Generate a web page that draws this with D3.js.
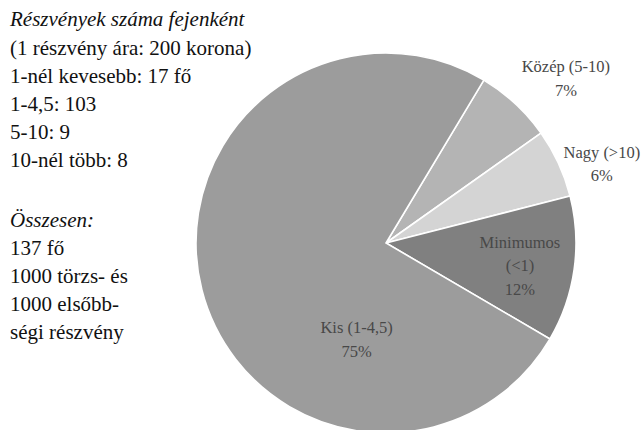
<!DOCTYPE html>
<html>
<head>
<meta charset="utf-8">
<script src="https://cdn.jsdelivr.net/npm/d3@7"></script>
<style>
  body { margin: 0; background: #fff; }
  svg { display: block; }
</style>
</head>
<body>
<div id="chart"></div>
<script>
// slices in drawing order, clockwise from the Közép slice
const categories = ["Közép (5-10)", "Nagy (>10)", "Minimumos (<1)", "Kis (1-4,5)"]
const labelLines = [["Közép (5-10)"], ["Nagy (>10)"], ["Minimumos", "(<1)"], ["Kis (1-4,5)"]]
const counts = [9, 8, 17, 103]
const sliceColors = ["#b4b4b4", "#d4d4d4", "#808080", "#9c9c9c"]

const noteTitle = "Részvények száma fejenként"
const noteLines = ["(1 részvény ára: 200 korona)", "1-nél kevesebb: 17 fő", "1-4,5: 103", "5-10: 9", "10-nél több: 8"]
const totalTitle = "Összesen:"
const totalLines = ["137 fő", "1000 törzs- és", "1000 elsőbb-", "ségi részvény"]

const width = 644
const height = 430
const cx = 386, cy = 243, radius = 190
const startDeg = 31
const serif = "'Liberation Serif', 'Times New Roman', Times, serif"

// label anchor per slice: [angle in degrees, distance from centre]
const labelAnchor = [[46.5, 248], [68.5, 232], [92, 134], [198, 95]]

const svg = d3.select("#chart").append("svg")
  .attr("width", width)
  .attr("height", height)
  .attr("font-family", serif)
  .style("font-family", serif)

const toRad = d => d * Math.PI / 180

const pie = d3.pie()
  .sort(null)
  .value(d => d)
  .startAngle(toRad(startDeg))
  .endAngle(toRad(startDeg + 360))

const arc = d3.arc().innerRadius(0).outerRadius(radius)
const arcs = pie(counts)
const total = d3.sum(counts)

const g = svg.append("g").attr("transform", "translate(" + cx + "," + cy + ")")

g.selectAll("path")
  .data(arcs)
  .enter().append("path")
  .attr("d", arc)
  .attr("fill", (d, i) => sliceColors[i])
  .attr("stroke", "#fff")
  .attr("stroke-width", 1.6)

// slice labels
const lineH = 23.5
g.selectAll("text.slice")
  .data(arcs)
  .enter().append("text")
  .attr("class", "slice")
  .attr("text-anchor", "middle")
  .attr("font-size", 16.5)
  .attr("fill", "#484848")
  .each(function(d, i) {
    const p = d3.pointRadial(toRad(labelAnchor[i][0]), labelAnchor[i][1])
    const lines = labelLines[i].concat([Math.round(100 * d.value / total) + "%"])
    d3.select(this).selectAll("tspan")
      .data(lines)
      .enter().append("tspan")
      .attr("x", p[0])
      .attr("y", (t, j) => p[1] + j * lineH)
      .text(t => t)
  })

// notes on the left
const noteX = 10
const noteH = 28
const note = svg.append("g").attr("font-size", 21).attr("fill", "#111")

note.append("text")
  .attr("x", noteX).attr("y", 26)
  .attr("font-style", "italic")
  .text(noteTitle)

note.selectAll("text.n")
  .data(noteLines)
  .enter().append("text")
  .attr("class", "n")
  .attr("x", noteX)
  .attr("y", (d, i) => 55 + i * noteH)
  .text(d => d)

note.append("text")
  .attr("x", noteX).attr("y", 227)
  .attr("font-style", "italic")
  .text(totalTitle)

note.selectAll("text.t")
  .data(totalLines)
  .enter().append("text")
  .attr("class", "t")
  .attr("x", noteX)
  .attr("y", (d, i) => 255 + i * noteH)
  .text(d => d)
</script>
</body>
</html>
